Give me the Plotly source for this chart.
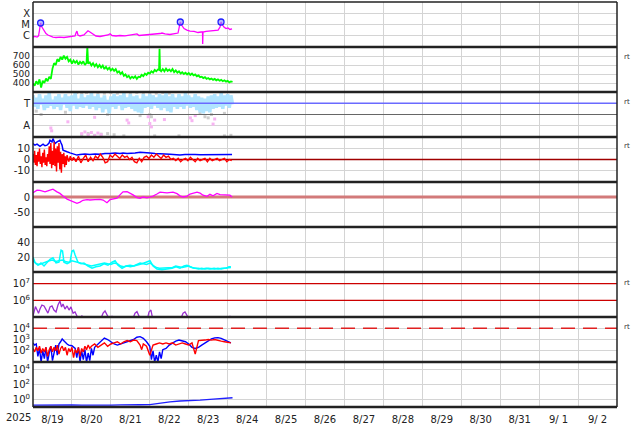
import pandas as pd
import plotly.graph_objects as go
from plotly.subplots import make_subplots

START = pd.Timestamp("2025-08-19 00:00")
END = pd.Timestamp("2025-09-03 00:00")
YEAR_LABEL = "2025"

# ---------------- data (hours since 2025-08-19 00:00) ----------------
# Panel 1: X-ray flux (W/m2)
xray_hours = [0, 1.2, 2.5, 3.4, 4.0, 4.7, 5.5, 6.8, 8.0, 9.2,
              10.5, 12.3, 14.2, 16.6, 19.1, 21.6, 24.0, 25.9, 26.5, 27.1,
              27.7, 29.0, 31.4, 32.7, 33.9, 35.1, 37.0, 38.8, 41.3, 44.4,
              46.2, 47.5, 48.7, 51.2, 53.6, 56.7, 59.8, 62.3, 64.1, 65.4,
              69.0, 72.3, 75.2, 78.3, 79.5, 81.4, 84.4, 87.5, 89.4, 90.3,
              90.8, 91.6, 93.1, 94.9, 96.8, 99.3, 101.7, 103.6, 104.5, 104.6,
              104.8, 106.7, 109.1, 111.6, 114.1, 115.3, 115.9, 116.5, 117.7, 119.0,
              120.2, 121.4, 122.7]
xray_flux = [7.7e-7, 8.6e-7, 7.7e-7, 9.5e-7, 3.2e-6, 1.36e-5, 6.0e-6, 2.6e-6, 1.58e-6, 1.17e-6,
             9.5e-7, 7.7e-7, 7.0e-7, 7.7e-7, 7.0e-7, 7.7e-7, 8.6e-7, 9.5e-7, 1.75e-6, 2.6e-6,
             1.17e-6, 9.5e-7, 1.17e-6, 1.75e-6, 2.8e-6, 2.15e-6, 1.44e-6, 9.5e-7, 8.6e-7, 9.5e-7,
             1.17e-6, 1.52e-6, 1.05e-6, 9.5e-7, 1.05e-6, 9.9e-7, 1.17e-6, 1.17e-6, 1.44e-6, 1.05e-6,
             1.17e-6, 1.17e-6, 1.29e-6, 1.58e-6, 1.75e-6, 1.44e-6, 1.29e-6, 1.44e-6, 1.75e-6, 7.4e-6,
             1.66e-5, 9.0e-6, 4.4e-6, 3.2e-6, 2.6e-6, 2.4e-6, 1.94e-6, 2.15e-6, 2.15e-6, 1.85e-7,
             2.15e-6, 2.4e-6, 2.6e-6, 2.9e-6, 3.2e-6, 6.0e-6, 1.66e-5, 1.1e-5, 6.0e-6, 4.4e-6,
             4.9e-6, 3.6e-6, 4.0e-6]
flare_hours = [4.7, 90.8, 115.9]
flare_flux = [1.36e-5, 1.66e-5, 1.66e-5]
xray_tickvals = [1e-4, 1e-5, 1e-6]
xray_ticktext = ["X", "M", "C"]

# Panel 2: solar wind speed (km/s)
sw_hours = [0, 1, 2, 3, 4, 5, 6, 7, 8, 9,
            10, 11, 12, 13, 14, 15, 16, 17, 18, 19,
            20, 21, 22, 23, 24, 25, 26, 27, 28, 29,
            30, 31, 32, 33, 33.5, 34, 35, 36, 37, 38,
            39, 40, 41, 42, 43, 44, 45, 46, 47, 48,
            49, 50, 51, 52, 53, 54, 55, 56, 57, 58,
            59, 60, 61, 62, 63, 64, 65, 66, 67, 68,
            69, 70, 71, 72, 73, 74, 75, 76, 77, 77.7,
            78, 78.3, 79, 80, 81, 82, 83, 84, 85, 86,
            87, 88, 89, 90, 91, 92, 93, 94, 95, 96,
            97, 98, 99, 100, 101, 102, 103, 104, 105, 106,
            107, 108, 109, 110, 111, 112, 113, 114, 115, 116,
            117, 118, 119, 120, 121, 122, 123]
sw_speed = [395, 370, 420, 385, 440, 350, 425, 400, 450, 420,
            470, 445, 560, 620, 600, 665, 640, 690, 660, 705,
            670, 690, 640, 660, 615, 650, 625, 645, 605, 635,
            615, 640, 600, 625, 800, 615, 630, 595, 620, 585,
            610, 575, 600, 570, 595, 555, 580, 550, 570, 540,
            560, 535, 555, 515, 530, 500, 520, 480, 495, 465,
            480, 450, 470, 455, 475, 445, 470, 465, 490, 475,
            505, 490, 515, 505, 530, 515, 545, 530, 550, 545,
            780, 545, 530, 555, 530, 560, 535, 550, 530, 555,
            520, 540, 515, 530, 505, 520, 500, 515, 495, 510,
            490, 505, 485, 495, 475, 485, 465, 470, 455, 465,
            445, 455, 440, 450, 435, 445, 430, 440, 425, 435,
            420, 430, 415, 425, 408, 418, 412]
sw_tickvals = [400, 500, 600, 700]

# Panel 3: IMF sector (T / A)
sector_hours = [0, 1, 2, 3, 4, 5, 6, 7, 8, 9,
                10, 11, 12, 13, 14, 15, 16, 17, 18, 19,
                20, 21, 22, 23, 24, 25, 26, 27, 28, 29,
                30, 31, 32, 33, 34, 35, 36, 37, 38, 39,
                40, 41, 42, 43, 44, 45, 46, 47, 48, 49,
                50, 51, 52, 53, 54, 55, 56, 57, 58, 59,
                60, 61, 62, 63, 64, 65, 66, 67, 68, 69,
                70, 71, 72, 73, 74, 75, 76, 77, 78, 79,
                80, 81, 82, 83, 84, 85, 86, 87, 88, 89,
                90, 91, 92, 93, 94, 95, 96, 97, 98, 99,
                100, 101, 102, 103, 104, 105, 106, 107, 108, 109,
                110, 111, 112, 113, 114, 115, 116, 117, 118, 119,
                120, 121, 122, 123]
sector_value = [3.7, 2.7, 3.5, 2.5, 3.8, 2.9, 3.4, 2.4, 3.7, 2.6,
                3.9, 2.8, 3.3, 2.5, 3.6, 2.7, 3.8, 2.4, 3.5, 2.9,
                3.8, 2.6, 3.6, 2.3, 3.7, 2.8, 3.9, 2.5, 3.4, 2.7,
                3.8, 2.6, 3.5, 2.8, 3.7, 2.5, 3.9, 2.7, 3.6, 2.4,
                3.8, 2.6, 3.5, 2.2, 3.7, 2.5, 3.3, 2.1, 3.6, 2.7,
                3.8, 2.5, 3.6, 2.8, 3.7, 2.4, 3.9, 2.6, 3.5, 2.7,
                3.8, 2.5, 3.6, 2.3, 3.7, 2.2, 3.4, 2.1, 3.8, 2.6,
                3.6, 2.7, 3.8, 2.5, 3.7, 2.8, 3.5, 2.6, 3.8, 2.4,
                3.7, 2.6, 3.9, 2.3, 3.6, 2.2, 3.8, 2.7, 3.5, 2.5,
                3.8, 2.7, 3.6, 2.5, 3.9, 2.8, 3.7, 2.6, 3.5, 2.7,
                3.8, 2.4, 3.6, 2.2, 3.5, 2.1, 3.4, 2.3, 3.6, 2.2,
                3.7, 2.5, 3.8, 2.6, 3.6, 2.7, 3.9, 2.5, 3.7, 2.8,
                3.8, 2.6, 3.7, 2.9]
gray_hours = [27, 30, 33, 36, 40, 44, 48, 52, 56, 60,
              64, 68, 72, 76, 80, 84, 2, 5, 20, 46,
              66, 72, 73, 103, 106, 108, 110, 118, 30, 34,
              38, 42, 46, 50, 56, 75, 90, 118, 122]
gray_value = [3.95, 3.9, 3.95, 3.9, 3.95, 3.9, 3.95, 3.9, 3.95, 3.9,
              3.95, 3.9, 3.95, 3.9, 3.95, 3.9, 2.3, 2.0, 2.2, 2.0,
              1.9, 2.0, 1.8, 2.1, 1.8, 1.7, 2.0, 2.1, 0.2, 0.3,
              0.15, 0.25, 0.3, 0.2, 0.1, 0.1, 0.1, 0.1, 0.15]
pink_hours = [11, 11.5, 21.5, 30, 32, 34, 36, 38, 40, 42,
              38, 58, 59, 71, 72, 73, 75, 81, 97, 98,
              100, 111, 112]
pink_value = [0.8, 0.55, 1.35, 0.3, 0.45, 0.2, 0.4, 0.1, 0.35, 0.2,
              1.75, 1.5, 1.25, 1.8, 1.2, 0.9, 1.5, 1.55, 1.7, 1.45,
              1.9, 1.15, 1.6]
sector_tickvals = [1, 3]
sector_ticktext = ["A", "T"]
sector_toward = [3]
sector_divider = [2]

# Panel 4: IMF Bt and Bz (nT)
bt_hours = [0, 1.2, 2.5, 4.3, 6.2, 7.4, 8.6, 9.9, 10.5, 11.7,
            12.3, 13.6, 14.8, 16, 16.6, 17.3, 17.9, 18.5, 19.7, 21,
            22.8, 24.7, 27.1, 29, 32, 35.1, 38.2, 41.3, 44.4, 47.5,
            50.6, 53.6, 55.5, 58, 59.8, 62.9, 66, 69, 72.1, 75.2,
            78.3, 81.4, 84.4, 87.5, 90.6, 93.7, 96.8, 99.9, 103, 106,
            109.1, 112.2, 115.3, 118.4, 121.4, 122.7]
bt_value = [14.5, 13, 14, 12, 14, 12.5, 13, 15, 17.5, 16,
            19, 14.5, 16, 17, 17.5, 15, 13, 8.5, 8, 7,
            6, 4.8, 4, 4.5, 5, 4.5, 5, 4.8, 5.5, 5.5,
            6, 5.5, 6, 5.5, 5.5, 6, 6.6, 6, 6, 5.5,
            5, 5, 4.8, 4.5, 4, 4.5, 4.8, 4.5, 4.3, 4.3,
            4.3, 4.5, 4, 4.2, 4.5, 4.5]
bz_hours = [0, 0.5, 1, 1.5, 2, 2.5, 3, 3.5, 4, 4.5,
            5, 5.5, 6, 6.5, 7, 7.5, 8, 8.5, 9, 9.5,
            10, 10.5, 11, 11.5, 12, 12.5, 13, 13.5, 14, 14.5,
            15, 15.5, 16, 16.5, 17, 17.5, 18, 18.5, 19, 19.5,
            20, 20.5, 21, 22, 23, 24,
            25, 26.5, 28, 29.5, 31, 32.5, 34, 35.5, 37, 38.5,
            40, 41.5, 43, 44.5, 46, 47.5, 49, 50.5, 52, 53.5,
            55, 56.5, 58, 59.5, 61, 62.5, 64, 65.5, 67, 68.5,
            70, 71.5, 73, 74.5, 76, 77.5, 79, 80.5, 82, 83.5,
            85, 86.5, 88, 89.5, 91, 92.5, 94, 95.5, 97, 98.5,
            100, 101.5, 103, 104.5, 106, 107.5, 109, 110.5, 112, 113.5,
            115, 116.5, 118, 119.5, 121, 122.5]
bz_value = [5, -3, 8, -5, 4, -6, 7, -2, 10, -4,
            3, -7, 6, -3, 9, -5, 2, -6, 5, -2,
            12, -4, 15, -8, 8, -5, 16, -6, 10, -11,
            12, -3, 15, -9, 7, -12, 5, -4, 6, -7,
            3, -5, 4, -2, 3, -1,
            2, -2, 3, -3, 1, 4, -2, 2, -1, 3,
            1, 5, 2, -3, -2, 4, 2, 5, 3, 1,
            4, 2, 3, 0, 2, -2, -3, 1, -2, 2,
            3, 1, 4, 2, 5, 3, 1, 4, 2, 3,
            0, 1, -1, 1, -2, 0, 1, -1, 2, 0,
            -2, 1, -1, 0, 1, -2, 1, -1, 0, 1,
            -1, 0, 1, -2, 0, -1]
imf_tickvals = [-10, 0, 10]
imf_ticktext = ["-10", "0", "10"]

# Panel 5: Dst (nT)
dst_hours = [0, 2.5, 4.3, 7.4, 10.5, 12.3, 14.8, 16.6, 18.5, 21,
             22.8, 24.7, 27.1, 29, 30.8, 33.3, 35.1, 38.2, 41.3, 43.2,
             45.6, 47.5, 49.3, 51.8, 53.6, 55.5, 58, 59.8, 61.7, 64.1,
             66, 67.8, 70.3, 72.1, 74, 76.4, 78.3, 82.6, 86.3, 88.8,
             90.6, 92.5, 94.9, 96.8, 98.6, 101.1, 103, 104.8, 107.3, 109.1,
             111, 113.4, 115.3, 117.1, 119.6, 121.4, 122.7]
dst_value = [14, 23, 22, 17, 23, 26, 17, 12, 3, -7,
             -11, -16, -21, -17, -11, -9, -10, -9, -8, -10,
             -19, -9, -6, -4, 7, 17, 18, 13, 7, -2,
             -4, 0, -3, 0, 3, 10, 16, 14, 16, 11,
             4, 0, 3, 10, 13, 16, 13, 6, 2, 9,
             4, 12, 8, 8, 7, 6, 0]
dst_tickvals = [-50, 0]
dst_ticktext = ["-50", "0"]

# Panel 6: two cyan series
cyan_a_hours = [0, 1.2, 3.1, 4.9, 6.8, 8.6, 10.5, 12.3, 14.2, 16,
                17.3, 18.2, 19.1, 21, 22.8, 24, 25, 25.9, 27.7, 29.6,
                31.4, 33.9, 36.4, 38.8, 41.3, 43.8, 46.2, 48.7, 50.6, 52.4,
                54.9, 57.3, 59.8, 62.3, 64.7, 67.2, 69.7, 72.1, 74, 76.4,
                79.5, 82.6, 85.7, 88.2, 90.6, 93.1, 94.9, 96.8, 99.3, 101.7,
                104.2, 106.7, 109.1, 111.6, 114.1, 116.5, 119, 120.8, 122]
cyan_a_value = [20, 13, 9, 12, 8, 13, 17, 19, 12, 13,
                29, 28, 13, 11, 13, 28, 29, 23, 13, 11,
                12, 8, 5, 7, 8, 11, 9, 13, 15, 9,
                5, 8, 9, 8, 9, 11, 13, 15, 8, 4,
                3, 4, 5, 7, 5, 8, 9, 7, 5, 5,
                4, 5, 4, 5, 4, 5, 5, 7, 7]
cyan_b_hours = [0, 2, 4, 6, 8, 10, 12, 14, 16, 18,
                20, 22, 24, 26, 28, 30, 32, 34, 36, 38,
                40, 42, 44, 46, 48, 50, 52, 54, 56, 58,
                60, 62, 64, 66, 68, 70, 72, 74, 76, 78,
                80, 82, 84, 86, 88, 90, 92, 94, 96, 98,
                100, 102, 104, 106, 108, 110, 112, 114, 116, 118,
                120, 122]
cyan_b_value = [15, 11, 10, 12, 14, 15, 16, 14, 15, 16,
                14, 13, 15, 14, 12, 11, 10, 9, 8, 9,
                10, 11, 12, 11, 10, 12, 11, 8, 7, 8,
                7, 8, 10, 12, 11, 10, 12, 9, 6, 5,
                5, 6, 5, 6, 8, 7, 6, 7, 8, 6,
                5, 4, 5, 4, 5, 4, 4, 5, 4, 5,
                6, 6]
cyan_tickvals = [20, 40]

# Panel 7: electron flux
elec_hours = [0, 0.6, 1.5, 2.5, 3.4, 4.3, 5.5, 6.8, 8, 9.2,
              10.5, 11.7, 12.9, 14.2, 15.4, 16.6, 17.6, 18.5, 19.7, 21,
              22.2, 23.4, 24.7, 25.9, 27.1, 28.4, 30.2, 31.4, 41.3, 43.2,
              44.4, 45.6, 47.5, 48.7, 50, 61, 62.9, 64.1, 65.4, 66.6,
              70.3, 71.5, 72.7, 74, 90.6, 92.5, 93.7, 95.6, 96.8, 120.2,
              121.4, 122.7]
elec_flux = [1.15e5, 2.0e5, 4.2e5, 2.6e5, 1.7e5, 3.0e5, 5.2e5, 4.6e5, 2.6e5, 1.7e5,
             4.0e5, 4.6e5, 2.6e5, 2.0e5, 5.2e5, 9.1e5, 4.0e5, 6.0e5, 3.0e5, 4.6e5,
             2.6e5, 4.0e5, 1.7e5, 2.0e5, 1.15e5, 6e4, 1.2e5, 6e4, 6e4, 1.7e5,
             2.3e5, 1.15e5, 6e4, 1.15e5, 6e4, 6e4, 1.7e5, 2.1e5, 1.15e5, 6e4,
             6e4, 2.0e5, 2.6e5, 6e4, 6e4, 1.7e5, 2.0e5, 1.15e5, 6e4, 6e4,
             1.15e5, 6e4]
elec_thresholds = [1e6, 1e7]
elec_tickvals = [1e6, 1e7]
elec_ticktext = ["10<sup>6</sup>", "10<sup>7</sup>"]

# Panel 8: blue and red flux series
p8_red_hours = [0, 1, 2, 3, 4, 5, 6, 7, 8, 9,
                10, 11, 12, 13, 14, 15, 16, 17, 18, 19,
                20, 21, 22, 23, 24, 25, 26, 27, 28, 29,
                30, 31, 32, 33, 34, 35, 36, 38, 40, 42,
                44, 46, 48, 50, 52, 54, 56, 58, 60, 62,
                64, 66, 67, 68, 70, 72, 74, 76, 78, 80,
                82, 84, 86, 88, 90, 92, 94, 96, 98, 100,
                102, 104, 106, 108, 110, 112, 114, 116, 118, 120,
                122]
p8_red_flux = [160, 80, 200, 100, 250, 63, 160, 80, 200, 32,
               125, 250, 80, 200, 100, 320, 50, 160, 250, 100,
               200, 40, 160, 80, 200, 25, 125, 63, 200, 32,
               160, 80, 250, 125, 320, 160, 250, 400, 200, 320,
               500, 250, 400, 500, 630, 400, 630, 800, 630, 890,
               800, 320, 125, 400, 250, 40, 320, 400, 500, 400,
               500, 400, 500, 320, 400, 500, 400, 320, 500, 50,
               800, 800, 890, 1000, 890, 1000, 800, 710, 630, 560,
               500]
p8_blue_hours = [0, 1, 2, 3, 4, 5, 6, 7, 8, 9,
                 10, 11, 12, 13, 14, 15, 16, 17, 18, 19,
                 20, 21, 22, 24, 26, 27, 28, 29, 30, 31,
                 32, 33, 34, 35, 36, 37, 38, 40, 42, 44,
                 46, 48, 50, 52, 54, 56, 58, 60, 62, 64,
                 66, 68, 70, 72, 73, 74, 75, 76, 77, 78,
                 79, 80, 82, 84, 86, 88, 90, 92, 94, 96,
                 98, 100, 102, 104, 106, 108, 110, 112, 114, 116,
                 118, 120, 122]
p8_blue_flux = [500, 320, 400, 32, 160, 10, 100, 20, 200, 10,
                63, 250, 13, 100, 320, 40, 400, 630, 1120, 790,
                500, 400, 320, 280, 160, 25, 200, 10, 100, 16,
                125, 10, 63, 13, 160, 40, 200, 400, 790, 1350,
                1000, 630, 400, 320, 400, 500, 630, 710, 1000, 1580,
                1780, 1260, 630, 250, 16, 100, 10, 40, 10, 80,
                20, 125, 160, 320, 500, 710, 890, 790, 630, 400,
                200, 160, 200, 320, 500, 790, 1120, 1410, 1450, 1260,
                890, 710, 500]
p8_threshold = [1e4]
p8_tickvals = [1e2, 1e3, 1e4]
p8_ticktext = ["10<sup>2</sup>", "10<sup>3</sup>", "10<sup>4</sup>"]

# Panel 9: blue series
p9_hours = [0, 6, 12, 18, 24, 30, 36, 42, 48, 54,
            60, 66, 72, 78.3, 84.4, 90.6, 96.8, 103, 109.1, 115.3,
            121.4, 123]
p9_flux = [0.18, 0.19, 0.17, 0.18, 0.19, 0.18, 0.17, 0.19, 0.18, 0.19,
           0.18, 0.2, 0.21, 0.34, 0.47, 0.63, 0.69, 0.85, 1.07, 1.45,
           1.74, 1.7]
p9_tickvals = [1, 1e2, 1e4]
p9_ticktext = ["10<sup>0</sup>", "10<sup>2</sup>", "10<sup>4</sup>"]

rt_rows = [2, 3, 4, 7, 8]


def times(hours):
    return [START + pd.Timedelta(hours=h) for h in hours]


span = [START, END]

fig = make_subplots(rows=9, cols=1, shared_xaxes=True, vertical_spacing=0)


def line(x, y, color, width, row, dash=None):
    fig.add_trace(go.Scatter(x=x, y=y, mode="lines",
                             line=dict(color=color, width=width, dash=dash),
                             hoverinfo="skip"), row=row, col=1)


# Panel 1
line(times(xray_hours), xray_flux, "#ff00ff", 1.3, 1)
fig.add_trace(go.Scatter(x=times(flare_hours), y=flare_flux, mode="markers",
                         marker=dict(symbol="circle", size=6, color="rgba(140,140,255,0.6)",
                                     line=dict(color="#2020ff", width=1.3))), row=1, col=1)
# Panel 2
line(times(sw_hours), sw_speed, "#00ff00", 1.8, 2)
# Panel 3
fig.add_trace(go.Scatter(x=times(gray_hours), y=gray_value, mode="markers",
                         marker=dict(symbol="square", size=3, color="#cccccc")), row=3, col=1)
line(times(sector_hours), sector_value, "#b0e4ff", 3.5, 3)
fig.add_trace(go.Scatter(x=times(pink_hours), y=pink_value, mode="markers",
                         marker=dict(symbol="square", size=3, color="#f7b4f2")), row=3, col=1)
line(span, sector_divider * 2, "#666666", 1, 3)
line(span, sector_toward * 2, "#6a6aff", 1.5, 3)
# Panel 4
line(span, [0, 0], "#a00000", 1.5, 4)
line(times(bt_hours), bt_value, "#0000ff", 1.5, 4)
line(times(bz_hours), bz_value, "#ff0000", 1.4, 4)
# Panel 5
line(span, [0, 0], "#d27a7a", 3, 5)
line(times(dst_hours), dst_value, "#ff00ff", 1.3, 5)
# Panel 6
line(times(cyan_b_hours), cyan_b_value, "#00ffff", 1.5, 6)
line(times(cyan_a_hours), cyan_a_value, "#00ffff", 1.5, 6)
# Panel 7
for th in elec_thresholds:
    line(span, [th, th], "#cc0000", 1.2, 7)
line(times(elec_hours), elec_flux, "#9a30d0", 1.3, 7)
# Panel 8
line(span, p8_threshold * 2, "#e02020", 1.5, 8, dash="14px,8px")
line(times(p8_blue_hours), p8_blue_flux, "#0000ff", 1.4, 8)
line(times(p8_red_hours), p8_red_flux, "#ff0000", 1.4, 8)
# Panel 9
line(times(p9_hours), p9_flux, "#2020ff", 1.3, 9)

FONT = dict(family="DejaVu Sans", size=10, color="#222222")
YFONT = dict(family="DejaVu Sans", size=10, color="#222222")
SWFONT = dict(family="DejaVu Sans", size=9, color="#222222")
GRID = "#d4d4d4"

fig.update_layout(width=634, height=424, margin=dict(l=33, r=17, t=2, b=17),
                  paper_bgcolor="white", plot_bgcolor="white", showlegend=False,
                  font=FONT)

fig.update_xaxes(type="date", range=span, showgrid=True, gridcolor=GRID, gridwidth=1,
                 dtick=86400000, tick0=START, ticks="outside", ticklen=3,
                 tickcolor="rgba(0,0,0,0)", zeroline=False, showline=False,
                 ticklabelmode="period", tickformat="%-m/%e", tickfont=FONT,
                 automargin=False, fixedrange=True)
fig.update_xaxes(showticklabels=True, row=9, col=1)

fig.update_yaxes(showgrid=True, gridcolor=GRID, gridwidth=1, zeroline=False, ticks="",
                 showline=False, tickfont=YFONT, automargin=False, fixedrange=True,
                 ticklabelstandoff=2)
fig.update_yaxes(type="log", range=[-7, -3], tickmode="array", tickvals=xray_tickvals,
                 ticktext=xray_ticktext, row=1, col=1)
fig.update_yaxes(range=[300, 800], tickmode="array", tickvals=sw_tickvals,
                 tickfont=SWFONT, row=2, col=1)
fig.update_yaxes(range=[0, 4], tickmode="array", tickvals=sector_tickvals,
                 ticktext=sector_ticktext, row=3, col=1)
fig.update_yaxes(range=[-20.45, 20.45], tickmode="array", tickvals=imf_tickvals,
                 ticktext=imf_ticktext, row=4, col=1)
fig.update_yaxes(range=[-100, 50], tickmode="array", tickvals=dst_tickvals,
                 ticktext=dst_ticktext, row=5, col=1)
fig.update_yaxes(range=[0, 60], tickmode="array", tickvals=cyan_tickvals, row=6, col=1)
fig.update_yaxes(type="log", range=[5, 7.7], tickmode="array", tickvals=elec_tickvals,
                 ticktext=elec_ticktext, row=7, col=1)
fig.update_yaxes(type="log", range=[1, 5], tickmode="array", tickvals=p8_tickvals,
                 ticktext=p8_ticktext, row=8, col=1)
fig.update_yaxes(type="log", range=[-1, 5], tickmode="array", tickvals=p9_tickvals,
                 ticktext=p9_ticktext, row=9, col=1)

# frame: panel separators and borders
shapes = []
for k in range(10):
    w = 2.5
    if k == 9:
        w = 1.5
    shapes.append(dict(type="line", xref="paper", yref="paper", x0=0, x1=1,
                       y0=k / 9, y1=k / 9, line=dict(color="#222222", width=w)))
for xv in (0, 1):
    shapes.append(dict(type="line", xref="paper", yref="paper", x0=xv, x1=xv,
                       y0=0, y1=1, line=dict(color="#222222", width=1.5)))
fig.update_layout(shapes=shapes)

annotations = [dict(text=YEAR_LABEL, xref="paper", yref="paper", x=-0.0245, y=-0.027,
                    xanchor="center", yanchor="middle", showarrow=False, font=FONT)]
rt_y = {2: 0.864, 3: 0.753, 4: 0.644, 7: 0.306, 8: 0.198}
for r in rt_rows:
    annotations.append(dict(text="rt", xref="paper", yref="paper", x=1.009, y=rt_y[r],
                            xanchor="left", yanchor="middle", showarrow=False,
                            font=dict(family="DejaVu Sans", size=7, color="#333333")))
fig.update_layout(annotations=annotations)

fig.write_html("out.html", config={"displayModeBar": False},
               post_script="document.body.style.margin='0px';")
